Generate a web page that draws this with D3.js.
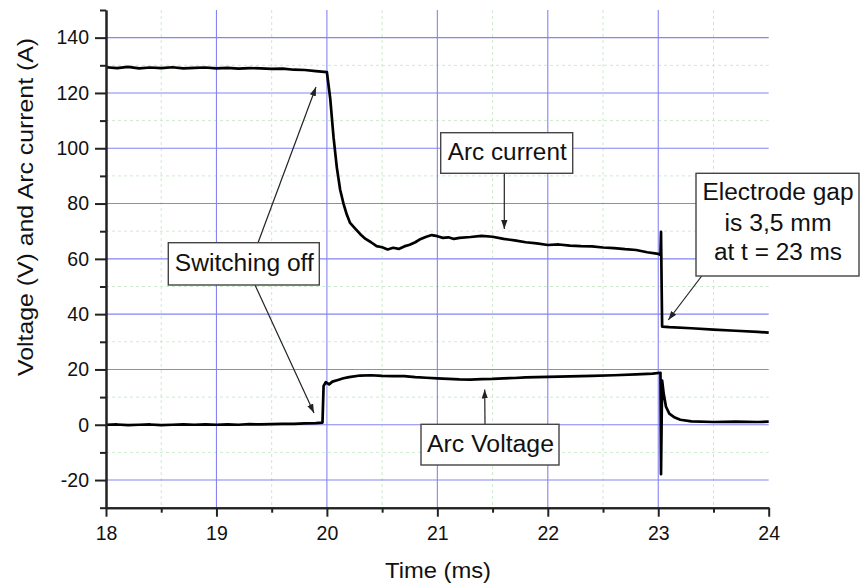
<!DOCTYPE html>
<html>
<head>
<meta charset="utf-8">
<script src="https://cdn.jsdelivr.net/npm/d3@7"></script>
<style>
  body { margin: 0; background: #fff; }
  text { font-family: "Liberation Sans", Arial, sans-serif; fill: #111; }
</style>
</head>
<body>
<svg id="drawing_region"></svg>
<script>
// values
const currentTime = [18.00,18.10,18.20,18.30,18.40,18.50,18.60,18.70,18.80,18.90,19.00,19.10,19.20,19.30,19.40,19.50,19.60,19.70,19.80,19.90,
  20.00,20.03,20.06,20.09,20.12,20.15,20.18,20.21,20.25,20.30,20.35,20.40,20.45,20.50,20.55,20.60,20.65,20.70,20.75,20.80,20.85,20.90,20.95,
  21.00,21.05,21.10,21.15,21.20,21.30,21.40,21.50,21.60,21.70,21.80,21.90,22.00,22.10,22.20,22.30,22.40,22.50,22.60,22.70,22.80,22.90,
  23.00,23.02,23.025,23.035,23.10,23.30,23.50,23.70,23.90,24.00];
const currentValue = [129.3,129.0,129.4,128.9,129.2,129.0,129.3,128.9,129.1,129.2,128.9,129.1,128.8,129.0,128.9,128.7,128.8,128.4,128.3,127.9,
  127.5,118.0,104.0,93.0,85.0,80.0,76.0,73.0,71.2,69.0,67.2,66.0,64.6,64.2,63.4,64.0,63.6,64.5,65.1,66.0,67.2,68.0,68.6,
  68.2,67.6,67.8,67.2,67.6,67.9,68.3,68.0,67.2,66.7,66.0,65.6,65.0,65.2,64.8,64.6,64.5,64.1,63.9,63.5,63.2,62.4,
  61.8,61.4,69.8,35.5,35.3,34.9,34.4,34.0,33.6,33.3];

const voltageTime = [18.00,18.10,18.20,18.30,18.40,18.50,18.60,18.70,18.80,18.90,19.00,19.10,19.20,19.30,19.40,19.50,19.60,19.70,19.80,19.90,
  19.96,19.97,19.99,20.02,20.05,20.10,20.15,20.20,20.30,20.40,20.50,20.60,20.70,20.80,20.90,
  21.00,21.10,21.20,21.30,21.40,21.50,21.60,21.70,21.80,21.90,22.00,22.20,22.40,22.60,22.80,22.95,
  23.02,23.025,23.035,23.05,23.07,23.10,23.15,23.20,23.30,23.50,23.70,23.90,24.00];
const voltageValue = [0.0,0.1,-0.1,0.0,0.1,-0.1,0.0,0.1,0.0,0.1,0.0,0.1,0.0,0.2,0.1,0.2,0.3,0.3,0.5,0.6,
  0.8,14.0,15.4,14.6,15.6,16.2,16.8,17.2,17.8,17.9,17.7,17.6,17.6,17.2,17.0,
  16.8,16.6,16.4,16.3,16.5,16.6,16.8,16.9,17.1,17.2,17.3,17.5,17.7,17.9,18.2,18.5,
  18.8,-17.9,16.0,11.0,6.5,4.0,2.6,1.8,1.2,1.0,1.1,1.0,1.1];

const xTicks = [18, 19, 20, 21, 22, 23, 24];
const xMinorTicks = [18.5, 19.5, 20.5, 21.5, 22.5, 23.5];
const yTicks = [-20, 0, 20, 40, 60, 80, 100, 120, 140];
const yMinorTicks = [-30, -10, 10, 30, 50, 70, 90, 110, 130, 150];

const config = {
    width: 860,
    height: 587,
    margin: {top: 10, right: 91.3, bottom: 79.3, left: 106}
};

const svg = d3.select('#drawing_region')
    .attr('width', config.width)
    .attr('height', config.height);

const inner_width = config.width - config.margin.left - config.margin.right;
const inner_height = config.height - config.margin.top - config.margin.bottom;

const chart = svg.append('g')
    .attr('transform', `translate(${config.margin.left}, ${config.margin.top})`);

const xscale = d3.scaleLinear().domain([18, 24]).range([0, inner_width]);
const yscale = d3.scaleLinear().domain([-30, 150]).range([inner_height, 0]);

// plain hyphen minus like the original
const fmt = d => String(d);

// grid: light green dotted minor, blue major
chart.append('g').selectAll('line')
    .data(xMinorTicks)
    .join('line')
    .attr('x1', d => xscale(d)).attr('x2', d => xscale(d))
    .attr('y1', 0).attr('y2', inner_height)
    .attr('stroke', '#cfe9cf').attr('stroke-dasharray', '3,3');

chart.append('g').selectAll('line')
    .data(yMinorTicks.filter(d => d > -30 && d < 150))
    .join('line')
    .attr('x1', 0).attr('x2', inner_width)
    .attr('y1', d => yscale(d)).attr('y2', d => yscale(d))
    .attr('stroke', '#cfe9cf').attr('stroke-dasharray', '3,3');

chart.append('g').selectAll('line')
    .data(xTicks.filter(d => d > 18 && d < 24))
    .join('line')
    .attr('x1', d => xscale(d)).attr('x2', d => xscale(d))
    .attr('y1', 0).attr('y2', inner_height)
    .attr('stroke', '#8585f2').attr('stroke-width', 1.1);

chart.append('g').selectAll('line')
    .data(yTicks)
    .join('line')
    .attr('x1', 0).attr('x2', inner_width)
    .attr('y1', d => yscale(d)).attr('y2', d => yscale(d))
    .attr('stroke', '#8585f2').attr('stroke-width', 1.1);

// traces
const line = d3.line().x(d => xscale(d[0])).y(d => yscale(d[1]));

chart.append('path')
    .datum(currentTime.map((t, i) => [t, currentValue[i]]))
    .attr('d', line)
    .attr('fill', 'none').attr('stroke', '#000').attr('stroke-width', 2.7)
    .attr('stroke-linejoin', 'round');

chart.append('path')
    .datum(voltageTime.map((t, i) => [t, voltageValue[i]]))
    .attr('d', line)
    .attr('fill', 'none').attr('stroke', '#000').attr('stroke-width', 2.7)
    .attr('stroke-linejoin', 'round');

// axes
const styleAxis = g => {
    g.select('.domain').attr('stroke', '#222').attr('stroke-width', 2);
    g.selectAll('.tick line').attr('stroke', '#222').attr('stroke-width', 2);
    g.selectAll('.tick text').attr('font-size', 19.5)
        .attr('font-family', '"Liberation Sans", Arial, sans-serif').attr('fill', '#111');
};

chart.append('g')
    .attr('transform', `translate(0, ${inner_height})`)
    .call(d3.axisBottom(xscale).tickValues(xMinorTicks).tickSize(5).tickSizeOuter(0).tickFormat(''))
    .call(styleAxis);

chart.append('g')
    .call(d3.axisLeft(yscale).tickValues(yMinorTicks).tickSize(6).tickSizeOuter(0).tickFormat(''))
    .call(styleAxis);

chart.append('g')
    .attr('transform', `translate(0, ${inner_height})`)
    .call(d3.axisBottom(xscale).tickValues(xTicks).tickSize(9).tickSizeOuter(0).tickPadding(9).tickFormat(fmt))
    .call(styleAxis);

chart.append('g')
    .call(d3.axisLeft(yscale).tickValues(yTicks).tickSize(11).tickSizeOuter(0).tickPadding(6).tickFormat(fmt))
    .call(styleAxis);

// axis titles
svg.append('text')
    .attr('x', 438).attr('y', 578)
    .attr('text-anchor', 'middle')
    .attr('font-size', 22)
    .attr('textLength', 106).attr('lengthAdjust', 'spacingAndGlyphs')
    .text('Time (ms)');

svg.append('text')
    .attr('transform', 'translate(33, 207) rotate(-90)')
    .attr('text-anchor', 'middle')
    .attr('font-size', 22)
    .attr('textLength', 338).attr('lengthAdjust', 'spacingAndGlyphs')
    .text('Voltage (V) and Arc current (A)');

// annotations
const defs = svg.append('defs');
defs.append('marker')
    .attr('id', 'head')
    .attr('viewBox', '0 0 10 10')
    .attr('refX', 10).attr('refY', 5)
    .attr('markerWidth', 9).attr('markerHeight', 9)
    .attr('markerUnits', 'userSpaceOnUse')
    .attr('orient', 'auto')
    .append('path').attr('d', 'M0,1.5 L10,5 L0,8.5 z').attr('fill', '#222');

const arrows = [
    [504.3, 173.3, 504.3, 229],
    [485, 424.3, 484.7, 389.5],
    [258, 242.7, 316, 87],
    [255, 285, 314, 413],
    [701.7, 276, 668.3, 320]
];
svg.append('g').selectAll('line')
    .data(arrows)
    .join('line')
    .attr('x1', d => d[0]).attr('y1', d => d[1])
    .attr('x2', d => d[2]).attr('y2', d => d[3])
    .attr('stroke', '#222').attr('stroke-width', 1.2)
    .attr('marker-end', 'url(#head)');

const boxes = [
    {x0: 440.7, y0: 132.7, x1: 572.7, y1: 173.3, lines: ['Arc current'], base: [160], len: [119]},
    {x0: 421, y0: 424.3, x1: 559, y1: 465, lines: ['Arc Voltage'], base: [451.7], len: [127]},
    {x0: 168.3, y0: 242.7, x1: 319.3, y1: 285, lines: ['Switching off'], base: [271], len: [139]},
    {x0: 696, y0: 173.3, x1: 859, y1: 276, lines: ['Electrode gap', 'is 3,5 mm', 'at t = 23 ms'], base: [200, 231, 260], len: [151, 107, 128]}
];
boxes.forEach(b => {
    const g = svg.append('g');
    g.append('rect')
        .attr('x', b.x0).attr('y', b.y0)
        .attr('width', b.x1 - b.x0).attr('height', b.y1 - b.y0)
        .attr('fill', '#fff').attr('stroke', '#444').attr('stroke-width', 1.4);
    b.lines.forEach((s, i) => {
        g.append('text')
            .attr('x', (b.x0 + b.x1) / 2 + 0.5).attr('y', b.base[i])
            .attr('text-anchor', 'middle')
            .attr('font-size', 23)
            .attr('textLength', b.len[i]).attr('lengthAdjust', 'spacingAndGlyphs')
            .text(s);
    });
});
</script>
</body>
</html>
